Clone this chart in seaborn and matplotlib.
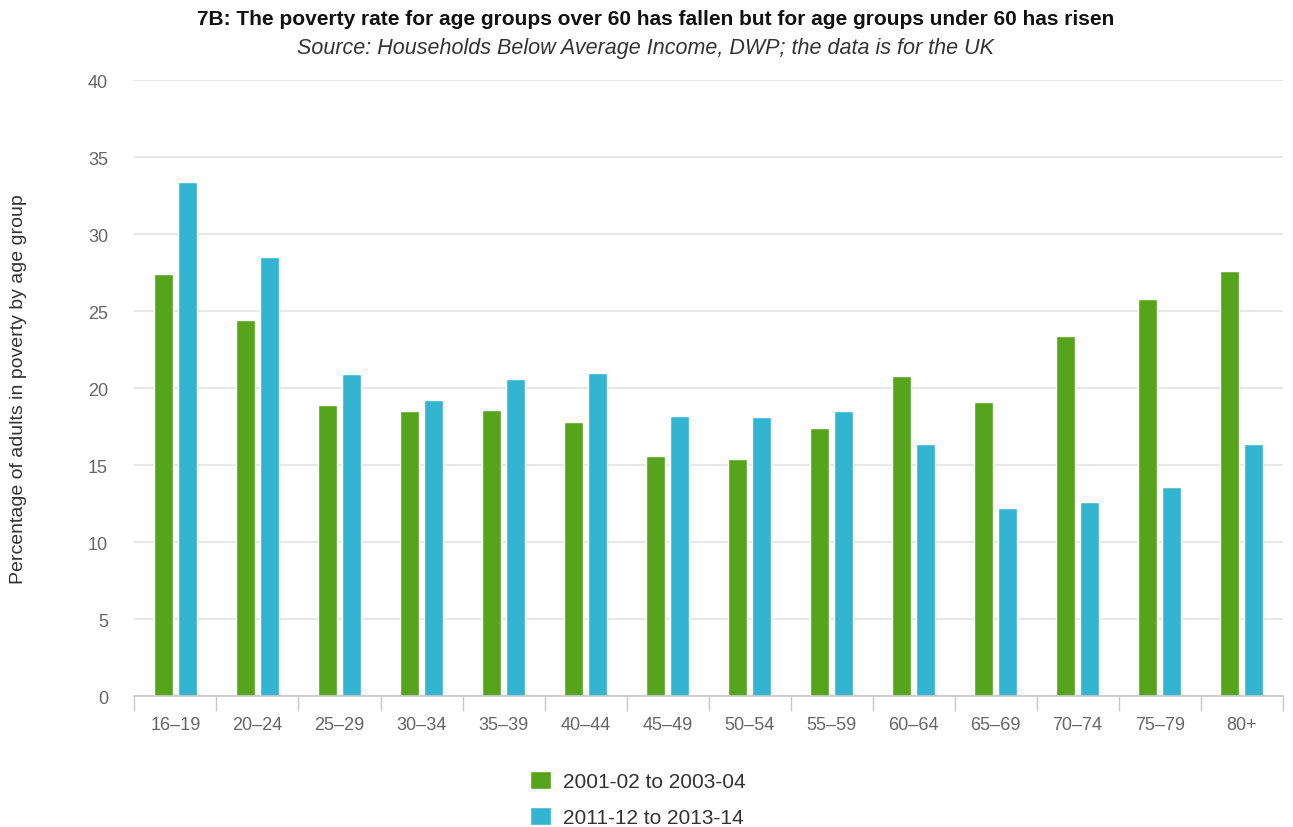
import numpy as np
import pandas as pd
import matplotlib
matplotlib.use("Agg")
import matplotlib.pyplot as plt
import seaborn as sns

categories = ["16–19", "20–24", "25–29", "30–34", "35–39", "40–44", "45–49",
              "50–54", "55–59", "60–64", "65–69", "70–74", "75–79", "80+"]
series_names = ["2001-02 to 2003-04", "2011-12 to 2013-14"]
values_2001 = [27.4, 24.4, 18.9, 18.5, 18.6, 17.8, 15.6, 15.4, 17.4, 20.8, 19.1, 23.4, 25.8, 27.6]
values_2011 = [33.4, 28.5, 20.9, 19.2, 20.6, 21.0, 18.2, 18.1, 18.5, 16.4, 12.2, 12.6, 13.6, 16.4]
colors = ["#56a31c", "#33b5d1"]

df = pd.DataFrame({
    "age": categories * 2,
    "value": values_2001 + values_2011,
    "period": [series_names[0]] * len(categories) + [series_names[1]] * len(categories),
})

sns.set_theme(style="white")
plt.rcParams['font.family'] = ['Liberation Sans', 'DejaVu Sans']

fig = plt.figure(figsize=(12.93, 8.28), dpi=100)
ax = fig.add_axes([0.104, 0.158, 0.888, 0.744])

sns.barplot(data=df, x="age", y="value", hue="period", palette=colors,
            width=0.575, gap=0.19, ax=ax, saturation=1, errorbar=None, legend=True)

ax.set_ylim(0, 40)
ax.set_xlim(-0.5, len(categories) - 0.5)
ax.set_yticks(np.arange(0, 41, 5))
ax.yaxis.grid(True, color="#e3e3e3", linewidth=1.2)
ax.set_axisbelow(True)
for s in ["top", "right", "left"]:
    ax.spines[s].set_visible(False)
ax.spines["bottom"].set_color("#c8c8c8")
ax.tick_params(axis="y", length=0, labelsize=13, labelcolor="#666666", pad=19)
ax.tick_params(axis="x", which="major", length=0, labelsize=13, labelcolor="#666666", pad=14)
ax.set_xticks(np.arange(-0.5, len(categories), 1.0), minor=True)
ax.tick_params(axis="x", which="minor", bottom=True, length=11, color="#c8c8c8", width=1)
ax.set_xlabel("")
ax.set_ylabel("Percentage of adults in poverty by age group", fontsize=14, color="#333333")
ax.yaxis.set_label_coords(-0.094, 0.5)

handles, labels = ax.get_legend_handles_labels()
ax.get_legend().remove()
leg = fig.legend(handles, labels, loc="upper left", bbox_to_anchor=(0.41, 0.068),
                 frameon=False, fontsize=15, handlelength=1.0, handleheight=1.0,
                 labelspacing=0.75, handletextpad=0.6, borderpad=0, borderaxespad=0)
for t in leg.get_texts():
    t.set_color("#333333")

fig.text(0.507, 0.977, "7B: The poverty rate for age groups over 60 has fallen but for age groups under 60 has risen",
         ha="center", va="center", fontsize=15, fontweight="bold", color="#111111")
fig.text(0.499, 0.941, "Source: Households Below Average Income, DWP; the data is for the UK",
         ha="center", va="center", fontsize=15.5, fontstyle="italic", color="#333333")

fig.savefig("out.png", dpi=100)
